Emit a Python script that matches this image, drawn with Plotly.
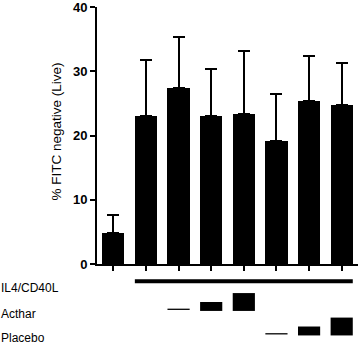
import plotly.graph_objects as go

# Data
groups = list(range(8))
means = [4.9, 23.0, 27.4, 23.0, 23.4, 19.2, 25.4, 24.8]
sem_upper = [2.8, 8.8, 7.9, 7.3, 9.8, 7.3, 6.9, 6.5]
y_ticks = [0, 10, 20, 30, 40]
row_labels = ["IL4/CD40L", "Acthar", "Placebo"]
il4_present = [0, 1, 1, 1, 1, 1, 1, 1]
acthar_dose = [0, 0, 1, 2, 3, 0, 0, 0]
placebo_dose = [0, 0, 0, 0, 0, 1, 2, 3]

W, H = 358, 343
L, R, T, B = 97, 0, 5, 79
plot_h = H - T - B
plot_w = W - L - R
BAR_W = 0.68
FONT = "Liberation Sans, Arial, Helvetica, sans-serif"

def py2paper(py):
    return (H - B - py) / plot_h

def px2paper(px):
    return (px - L) / plot_w

fig = go.Figure()
fig.add_trace(go.Bar(
    x=groups, y=means, width=BAR_W,
    marker=dict(color="black", line=dict(width=0)),
    error_y=dict(type="data", symmetric=False, array=sem_upper,
                 arrayminus=[0] * len(means), color="black",
                 thickness=2, width=6),
))

shapes = []
# IL4/CD40L bar
idx = [i for i, v in enumerate(il4_present) if v]
shapes.append(dict(type="rect", xref="x", yref="paper",
                   x0=idx[0] - BAR_W / 2, x1=idx[-1] + BAR_W / 2,
                   y0=py2paper(283.3), y1=py2paper(279.3),
                   fillcolor="black", line=dict(width=0)))

def dose_shapes(doses, base_py):
    heights = {1: 1.3, 2: 9, 3: 18}
    for i, d in enumerate(doses):
        if d:
            h = heights[d]
            bottom = base_py - (1 if d == 1 else 0)
            shapes.append(dict(type="rect", xref="x", yref="paper",
                               x0=i - BAR_W / 2, x1=i + BAR_W / 2,
                               y0=py2paper(bottom), y1=py2paper(bottom - h),
                               fillcolor="black", line=dict(width=0)))

dose_shapes(acthar_dose, 311.3)
dose_shapes(placebo_dose, 336)

annotations = []
for lab, py in zip(row_labels, [288.5, 314, 338.5]):
    annotations.append(dict(text=lab, xref="paper", yref="paper",
                            x=px2paper(-1.5), y=py2paper(py),
                            xanchor="left", yanchor="middle", showarrow=False,
                            font=dict(family=FONT, size=12, color="black")))
annotations.append(dict(text="% FITC negative (Live)", xref="paper", yref="paper",
                        x=px2paper(57), y=py2paper(130.5),
                        xanchor="center", yanchor="middle", textangle=-90,
                        showarrow=False,
                        font=dict(family=FONT, size=13.5, color="black")))

fig.update_layout(
    width=W, height=H,
    margin=dict(l=L, r=R, t=T, b=B, pad=0),
    plot_bgcolor="white", paper_bgcolor="white",
    showlegend=False, bargap=0,
    shapes=shapes, annotations=annotations,
    xaxis=dict(range=[-0.5, 7.5], tickmode="array", tickvals=groups,
               ticktext=[""] * len(groups), ticks="outside", ticklen=5,
               tickwidth=2, tickcolor="black", showline=True, linewidth=2,
               linecolor="black", showgrid=False, zeroline=False, fixedrange=True),
    yaxis=dict(range=[0, 40], tickmode="array", tickvals=y_ticks,
               ticktext=["<b>%d</b>" % v for v in y_ticks],
               ticks="outside", ticklen=5, tickwidth=2, tickcolor="black",
               ticklabeloverflow="allow",
               showline=True, linewidth=2, linecolor="black", showgrid=False,
               zeroline=False, tickfont=dict(family=FONT, size=13, color="black"),
               fixedrange=True),
)

fig.write_html("out.html", config={"displayModeBar": False},
               post_script="document.body.style.margin='0';document.body.style.overflow='hidden';")
